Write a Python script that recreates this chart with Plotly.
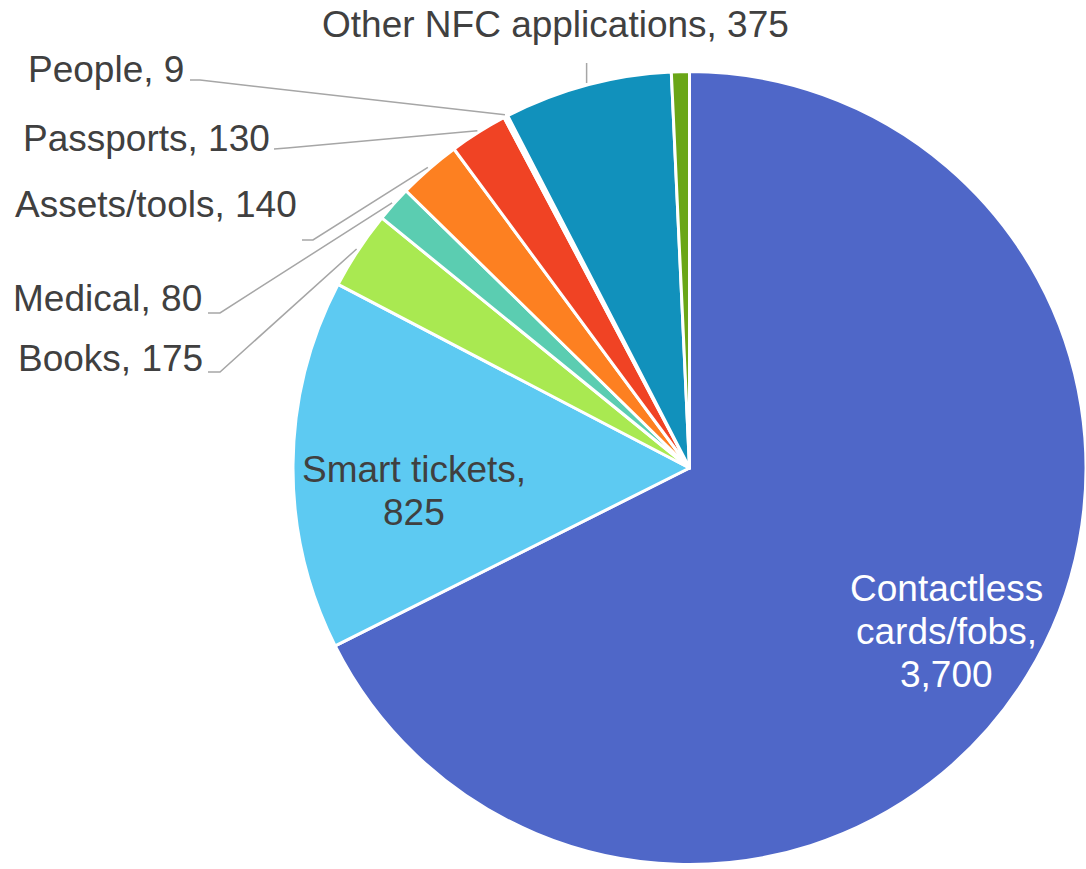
import math
import plotly.graph_objects as go

# ---- data ----
categories = ["Contactless cards/fobs", "Smart tickets", "Books", "Medical",
              "Assets/tools", "Passports", "People", "Other NFC applications", "Other"]
values = [3700, 825, 175, 80, 140, 130, 9, 375, 40]
colors = ["#4F67C8", "#5DCAF2", "#A9E951", "#5BCDB1", "#FD8021",
          "#F04324", "#FFFFFF", "#1191BC", "#6AA617"]
inside_lines = {
    "Contactless cards/fobs": ["Contactless", "cards/fobs,", "3,700"],
    "Smart tickets": ["Smart tickets,", "825"],
}

# ---- layout constants (screen pixels) ----
W, H = 1086, 869
FONT = "Liberation Sans, Arial, sans-serif"
FS = 37
TXT = "#404040"
LEFT = 293.0          # left edge of pie
CY = 468.0            # centre y
HALF = 398.0
dom_x = [LEFT / W, 1.0]
dom_y = [(H - CY - HALF) / H, (H - CY + HALF) / H]
R = min(W - LEFT, 2 * HALF) / 2
CX = LEFT + (W - LEFT) / 2

def px(x, y):
    return x / W, 1 - y / H

total = sum(values)
mids = {}
cum = 0
for c, v in zip(categories, values):
    mids[c] = 360 * (cum + v / 2) / total
    cum += v

def polar(cat, rho):
    a = math.radians(mids[cat])
    return CX + rho * math.sin(a), CY - rho * math.cos(a)

fig = go.Figure(go.Pie(
    labels=categories, values=values, sort=False, direction="clockwise", rotation=0,
    marker=dict(colors=colors, line=dict(color="white", width=3)),
    textinfo="none", hoverinfo="label+value", showlegend=False,
    domain=dict(x=dom_x, y=dom_y),
))

annotations = []
shapes = []

# inside labels: block centre (px) and colour
inside_spec = {"Contactless cards/fobs": (946, 631, "white"), "Smart tickets": (414, 491, TXT)}
LH = 43
for cat, lines in inside_lines.items():
    bx, by, col = inside_spec[cat]
    n = len(lines)
    for i, ln in enumerate(lines):
        yy = by + (i - (n - 1) / 2) * LH
        x, y = px(bx, yy)
        annotations.append(dict(x=x, y=y, xref="paper", yref="paper", text=ln,
                                showarrow=False, xanchor="center", yanchor="middle",
                                font=dict(family=FONT, size=FS, color=col)))

# outside labels: (text x, text y, xanchor, leader start, elbow)
outside_spec = {
    "Other NFC applications": (555, 24, "center", None, None),
    "People": (186, 69, "right", (190, 80), (200, 80)),
    "Passports": (272, 138, "right", (274, 149), (287, 148)),
    "Assets/tools": (299, 205, "right", (302, 240), (313, 240)),
    "Medical": (204, 298, "right", (208, 313), (220, 313)),
    "Books": (205, 358, "right", (208, 372), (220, 372)),
}
for cat, (tx, ty, xa, st, el) in outside_spec.items():
    v = values[categories.index(cat)]
    x, y = px(tx, ty)
    annotations.append(dict(x=x, y=y, xref="paper", yref="paper", text=f"{cat}, {v:,}",
                            showarrow=False, xanchor=xa, yanchor="middle",
                            font=dict(family=FONT, size=FS, color=TXT)))
    ex, ey = polar(cat, R + 2)
    if st is None:
        pts = [(ex, 63), (ex, ey)]
    else:
        pts = [st, el, (ex, ey)]
    pp = [px(a, b) for a, b in pts]
    path = "M " + " L ".join(f"{a:.5f},{b:.5f}" for a, b in pp)
    shapes.append(dict(type="path", path=path, xref="paper", yref="paper",
                       line=dict(color="#A6A6A6", width=1.5)))

fig.update_layout(
    width=W, height=H, margin=dict(l=0, r=0, t=0, b=0),
    paper_bgcolor="white", plot_bgcolor="white",
    annotations=annotations, shapes=shapes,
)
fig.write_html("out.html", config={"displayModeBar": False},
               post_script="document.body.style.margin='0';")
